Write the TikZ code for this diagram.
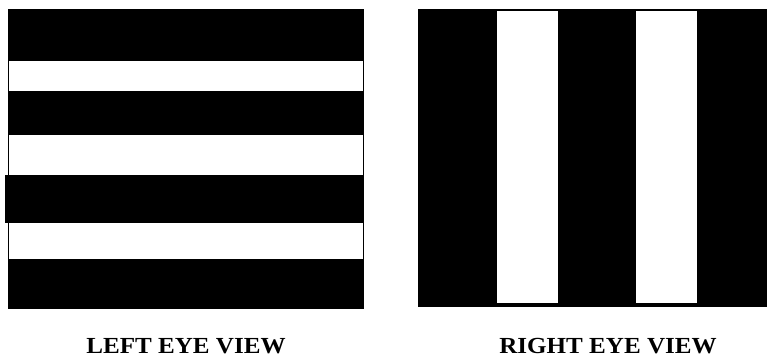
\documentclass[tikz,border=0pt]{standalone}
\usepackage{fontspec}
\setmainfont{Liberation Serif}
\begin{document}
\begin{tikzpicture}[x=1pt,y=-1pt,
  blk/.style={fill=black,draw=none},
  wht/.style={fill=white,draw=none},
  frame/.style={draw=black,line width=1pt},
  lbl/.style={font=\bfseries\fontsize{23}{23}\selectfont,anchor=base,inner sep=0pt,xscale=1.09}]
\useasboundingbox (0,0) rectangle (767,357);
\clip (0,0) rectangle (767,357);
% left eye view: horizontal stripes
\draw[frame,fill=white] (8,9) rectangle (363,308);
\fill[blk] (8,9) rectangle (363,61);
\fill[blk] (8,91) rectangle (363,135);
\fill[blk] (5,175) rectangle (363,223);
\fill[blk] (8,259) rectangle (363,308);
% right eye view: vertical stripes
\draw[frame,fill=black] (418,9) rectangle (775,306);
\fill[wht] (497,11) rectangle (558,303);
\fill[wht] (636,11) rectangle (697,303);
% labels
\node[lbl] (left) at (186,353) {LEFT EYE VIEW};
\node[lbl] (right) at (608,353) {RIGHT EYE VIEW};
\end{tikzpicture}
\end{document}
